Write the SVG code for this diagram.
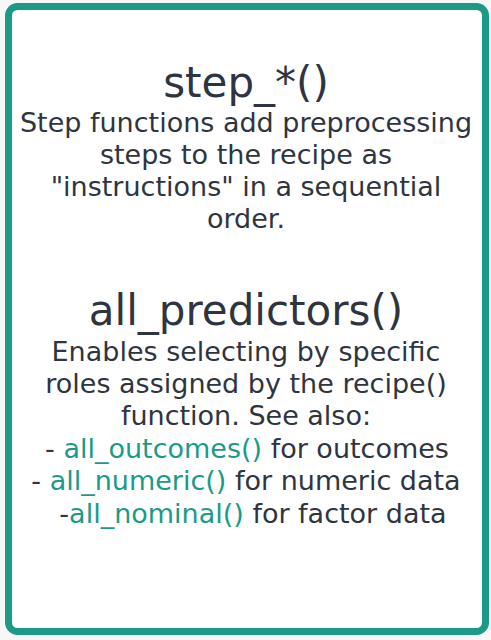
<svg xmlns="http://www.w3.org/2000/svg" width="491" height="640" viewBox="0 0 491 640">
<style>
.t{font-family:"DejaVu Sans","Noto Sans",sans-serif;fill:#2e3540;text-anchor:middle}
.h{font-size:42px}
.b{font-size:27px}
.g{fill:#1b9a89}
</style>
<rect width="491" height="640" fill="#f7f7f7"/>
<g id="card">
<rect x="8.5" y="6.5" width="477" height="625" rx="9" fill="#ffffff" stroke="#1b9a89" stroke-width="7"/>
</g>
<g id="step">
<text class="t h" x="246" y="97">step_*()</text>
<text class="t b" x="246" y="132">Step functions add preprocessing</text>
<text class="t b" x="246" y="164">steps to the recipe as</text>
<text class="t b" x="246" y="196">"instructions" in a sequential</text>
<text class="t b" x="246" y="228">order.</text>
</g>
<g id="predictors">
<text class="t h" x="246" y="325">all_predictors()</text>
<text class="t b" x="246" y="361">Enables selecting by specific</text>
<text class="t b" x="246" y="393">roles assigned by the recipe()</text>
<text class="t b" x="246" y="425">function. See also:</text>
<text class="t b" x="247" y="458">- <tspan class="g">all_outcomes()</tspan> for outcomes</text>
<text class="t b" x="246" y="490">- <tspan class="g">all_numeric()</tspan> for numeric data</text>
<text class="t b" x="253" y="523">-<tspan class="g">all_nominal()</tspan> for factor data</text>
</g>
<g id="connectors"></g>
</svg>
